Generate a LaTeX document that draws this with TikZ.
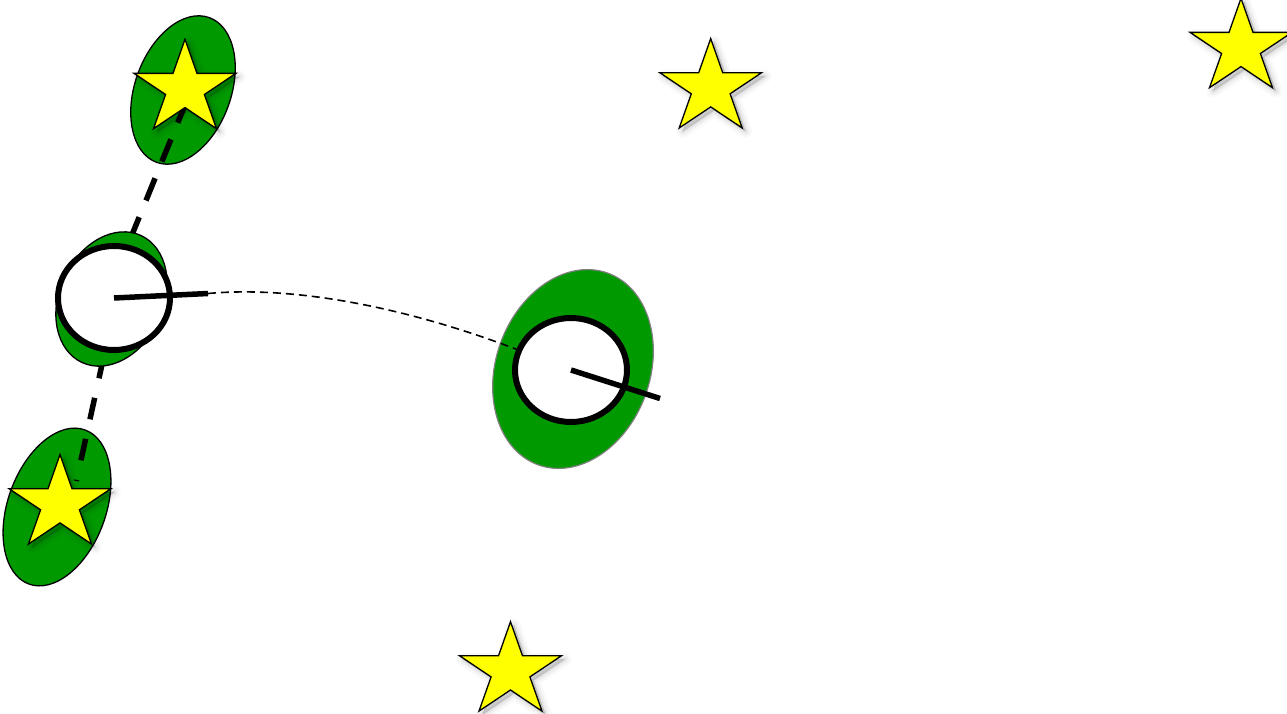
\documentclass[tikz,border=0pt]{standalone}
\usetikzlibrary{shapes.geometric}
\definecolor{dgreen}{HTML}{009900}
\definecolor{syellow}{HTML}{FFFF00}
\tikzset{
  greenoval/.style={ellipse, draw=black, line width=1.3pt, fill=dgreen, inner sep=0pt},
  ring/.style={ellipse, draw=black, line width=6pt, fill=white, inner sep=0pt,
               minimum width=112pt, minimum height=104pt},
  stub/.style={line width=5.5pt},
  thickdash/.style={line width=5.5pt},
  thindash/.style={line width=1.6pt, dash pattern=on 8pt off 5pt},
  shadowlayer/.style={draw=black, draw opacity=#1, fill=black, fill opacity=#1,
               line join=round, transform canvas={xshift=3.5pt, yshift=-3.5pt}},
  pics/yellowstar/.style={code={
    \draw[preaction={shadowlayer=0.025, line width=13pt},
          preaction={shadowlayer=0.035, line width=8pt},
          preaction={shadowlayer=0.045, line width=4pt},
          preaction={shadowlayer=0.05, line width=1pt},
          line width=1.3pt, fill=syellow, line join=miter]
      (0,-49.4) -- (12,-15.3) -- (50.9,-15.3) -- (19.4,5.8) -- (31.5,40)
      -- (0,18.9) -- (-31.5,40) -- (-19.4,5.8) -- (-50.9,-15.3) -- (-12,-15.3) -- cycle;
  }}
}
\begin{document}
\begin{tikzpicture}[x=1pt, y=-1pt]
\useasboundingbox (0,0) rectangle (1287,714);

% outer green ovals
\node[greenoval, minimum width=96pt, minimum height=154pt, rotate=-20] (ovalA) at (183,90) {};
\node[greenoval, minimum width=98pt, minimum height=164pt, rotate=-20] (ovalE) at (57,507) {};

% thick dashed links
\coordinate (upS) at (186.8,100.5);
\coordinate (upE) at (130.7,238);
\coordinate (loS) at (103.7,356.8);
\coordinate (loE) at (76.4,481);
\draw[thickdash, dash pattern=on 24pt off 18pt] (upS) -- (upE);
\draw[thickdash, dash pattern=on 22pt off 20pt] (loS) -- (loE);

% left ring
\node[greenoval, minimum width=104pt, minimum height=140pt, rotate=-25] (ovalL) at (111.5,299) {};
\node[ring] (ringL) at (114,298) {};
\coordinate (lstub) at (208,293.5);
\draw[stub] (ringL.center) -- (lstub);

% middle ring
\node[greenoval, draw=gray, line width=1.2pt, minimum width=154pt, minimum height=204pt, rotate=-20] (ovalM) at (573,369) {};
\node[ring] (ringM) at (571,370) {};
\draw[thindash] (lstub) .. controls (290,286) and (400,305) .. (ringM);
\coordinate (mstub) at (660,398.5);
\draw[stub] (ringM.center) -- (mstub);

% stars
\pic (starA) at (185,88.7) {yellowstar};
\pic (starB) at (710.7,88) {yellowstar};
\pic (starC) at (510.5,671.1) {yellowstar};
\pic (starD) at (1241,47.7) {yellowstar};
\pic (starE) at (60,504) {yellowstar};
\end{tikzpicture}
\end{document}
